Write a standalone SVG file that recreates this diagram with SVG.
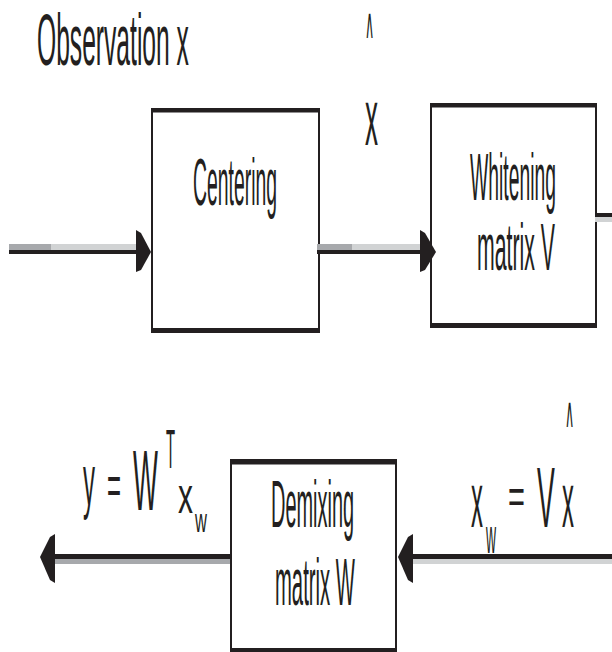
<svg xmlns="http://www.w3.org/2000/svg" width="612" height="652" viewBox="0 0 612 652">
<style>
.t{font-family:"Liberation Sans",Arial,sans-serif;fill:#231f20}
.h{font-family:"DejaVu Sans",sans-serif;fill:#231f20}
.box{fill:#fff;stroke:#231f20;stroke-width:2}
.bar{fill:#231f20}
.blk{fill:#231f20}
.dg{fill:#a7a9ac}
.lg{fill:#d1d3d4}
</style>
<rect width="612" height="652" fill="#fff"/>
<g id="observation">
<text class="t" transform="translate(37,65) scale(0.342,1)" font-size="72">Observation x</text>
</g>
<g id="xhat">
<text class="h" transform="translate(365,38) scale(0.3,1)" font-size="42">∧</text>
<text class="t" transform="translate(365,145) scale(0.325,1)" font-size="80">x</text>
</g>
<g id="centering">
<rect class="box" x="152" y="109" width="167" height="223"/>
<rect class="bar" x="151" y="108" width="169" height="4.5"/>
<rect class="bar" x="151" y="328" width="169" height="5"/>
<text class="t" transform="translate(193,205) scale(0.294,1)" font-size="66">Centering</text>
</g>
<g id="whitening">
<rect class="box" x="431" y="104" width="165" height="223"/>
<rect class="bar" x="430" y="103" width="167" height="4.5"/>
<rect class="bar" x="430" y="323" width="167" height="5"/>
<text class="t" transform="translate(470,200) scale(0.293,1)" font-size="66">Whitening</text>
<text class="t" transform="translate(477,270) scale(0.322,1)" font-size="66">matrix V</text>
</g>
<g id="demixing">
<rect class="box" x="231" y="460" width="165" height="191"/>
<rect class="bar" x="230" y="459" width="167" height="5.5"/>
<rect class="bar" x="230" y="648" width="167" height="4"/>
<text class="t" transform="translate(271,527) scale(0.302,1)" font-size="66">Demixing</text>
<text class="t" transform="translate(275,605) scale(0.307,1)" font-size="66">matrix W</text>
</g>
<g id="eq-y">
<text class="t" transform="translate(83,505) scale(0.333,1)" font-size="72">y</text>
<text class="t" transform="translate(107,504) scale(0.436,1)" font-size="55">=</text>
<text class="t" transform="translate(133,510) scale(0.31,1)" font-size="85">W</text>
<text class="t" transform="translate(166,468) scale(0.27,1)" font-size="55">T</text>
<text class="t" transform="translate(178,513) scale(0.6,1)" font-size="50">x</text>
<text class="t" transform="translate(195,532) scale(0.5,1)" font-size="33">w</text>
</g>
<g id="eq-xw">
<text class="t" transform="translate(471,527) scale(0.31,1)" font-size="77">x</text>
<text class="t" transform="translate(486,553) scale(0.29,1)" font-size="48">w</text>
<text class="t" transform="translate(508,513) scale(0.58,1)" font-size="50">=</text>
<text class="t" transform="translate(537,527) scale(0.31,1)" font-size="86">V</text>
<text class="t" transform="translate(562,527) scale(0.31,1)" font-size="77">x</text>
<text class="h" transform="translate(565,427) scale(0.3,1)" font-size="42">∧</text>
</g>
<g id="connectors">
<rect class="dg" x="9" y="244" width="42" height="6"/>
<rect class="lg" x="51" y="244" width="86" height="6"/>
<rect class="blk" x="9" y="250" width="130" height="4"/>
<polygon class="blk" points="136,230 141,233 151,252 141,270 136,272"/>
<rect class="dg" x="317" y="244" width="35" height="6"/>
<rect class="lg" x="352" y="244" width="69" height="6"/>
<rect class="blk" x="317" y="250" width="106" height="4"/>
<polygon class="blk" points="420,230 425,233 436,252 425,270 420,272"/>
<rect class="lg" x="595" y="217" width="17" height="5"/>
<rect class="blk" x="597" y="213" width="15" height="4"/>
<rect class="dg" x="55" y="559" width="175" height="5"/>
<rect class="blk" x="52" y="554" width="178" height="5"/>
<polygon class="blk" points="55,534 50,537 40,557 50,580 55,583"/>
<rect class="lg" x="412" y="559" width="200" height="5"/>
<rect class="blk" x="409" y="554" width="203" height="5"/>
<polygon class="blk" points="413,534 408,537 398,557 408,580 413,583"/>
</g>
</svg>
